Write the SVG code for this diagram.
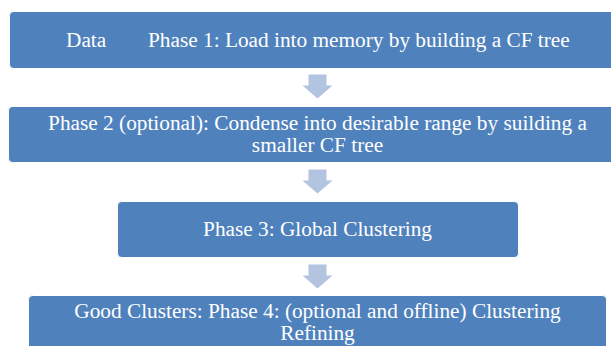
<svg xmlns="http://www.w3.org/2000/svg" width="611" height="346" viewBox="0 0 611 346">
  <style>
    .box { fill: #4F81BD; stroke: #ffffff; stroke-width: 1; }
    .lbl { font-family: 'Liberation Serif', 'DejaVu Serif', serif; font-size: 21.3px; fill: #ffffff; }
    .mid { text-anchor: middle; }
    .arrow { fill: #B3C4E0; }
  </style>
  <defs>
    <!-- down arrow used between the phases -->
    <path id="down" d="M -9 0 H 9 V 11 H 15 L 0 24 L -15 11 H -9 Z"/>
  </defs>

  <g id="connectors">
    <use href="#down" class="arrow" x="317.5" y="74.5"/>
    <use href="#down" class="arrow" x="317.5" y="169.5"/>
    <use href="#down" class="arrow" x="317.5" y="264.5"/>
  </g>

  <g id="phase1">
    <rect class="box" x="9.5" y="11.5" width="615" height="57" rx="4"/>
    <text class="lbl" y="47"><tspan x="66">Data</tspan><tspan x="148">Phase 1: Load into memory by building a CF tree</tspan></text>
  </g>

  <g id="phase2">
    <rect class="box" x="8.5" y="106.5" width="615" height="56" rx="4"/>
    <text class="lbl mid" x="317.5" y="130">Phase 2 (optional): Condense into desirable range by suilding a</text>
    <text class="lbl mid" x="317.5" y="152">smaller CF tree</text>
  </g>

  <g id="phase3">
    <rect class="box" x="117.5" y="201.5" width="401" height="56" rx="4"/>
    <text class="lbl mid" x="317.5" y="236">Phase 3: Global Clustering</text>
  </g>

  <g id="phase4">
    <rect class="box" x="28.5" y="295.5" width="578" height="60" rx="4"/>
    <text class="lbl mid" x="317.5" y="318">Good Clusters: Phase 4: (optional and offline) Clustering</text>
    <text class="lbl mid" x="317.5" y="340">Refining</text>
  </g>
</svg>
